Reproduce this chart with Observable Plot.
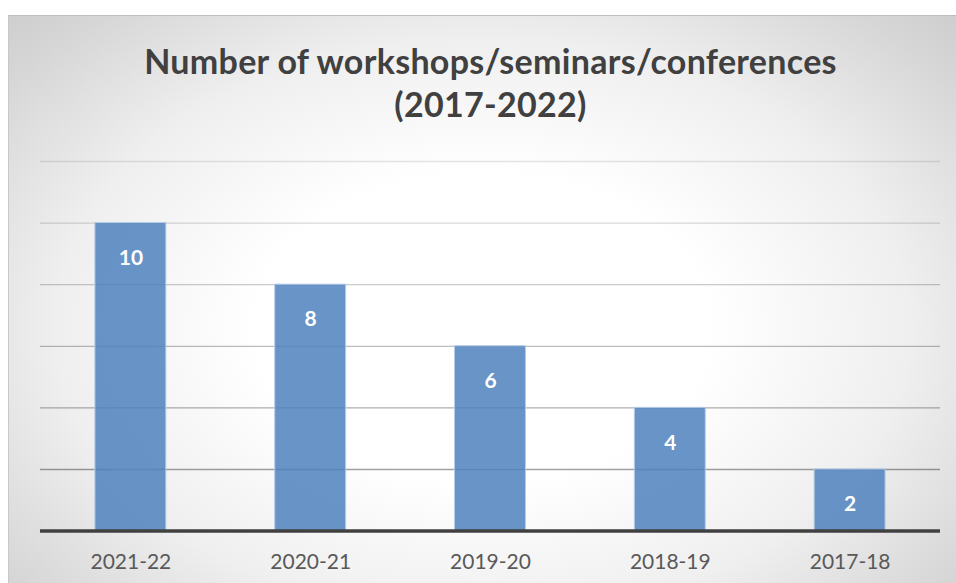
<!DOCTYPE html>
<html>
<head>
<meta charset="utf-8">
<script src="https://cdn.jsdelivr.net/npm/d3@7"></script>
<script src="https://cdn.jsdelivr.net/npm/@observablehq/plot@0.6"></script>
<style>
  html, body { margin: 0; padding: 0; background: #ffffff; }
  #chart {
    position: absolute; left: 8px; top: 15px; width: 948px; height: 568px;
    box-sizing: border-box; border-top: 1.5px solid #bdbdbd; border-left: 1px solid #c8c8c8;
    background: radial-gradient(ellipse 75% 85% at 50% 55%, #ffffff 0%, #ffffff 32%, #efefef 60%, #d6d6d6 84%, #c8c8c8 100%);
    overflow: hidden;
  }
  #title {
    height: 125px; box-sizing: border-box; padding-top: 23px; padding-left: 16px;
    font-family: Lato, "Open Sans", sans-serif; font-weight: 700; font-size: 34px;
    letter-spacing: 0.3px;
    line-height: 43px; color: #404040; text-align: center;
  }
  #plot svg { display: block; }
</style>
</head>
<body>
<div id="chart">
  <div id="title">Number of workshops/seminars/conferences<br>(2017-2022)</div>
  <div id="plot"></div>
</div>
<script>
const years = ["2021-22", "2020-21", "2019-20", "2018-19", "2017-18"];
const counts = [10, 8, 6, 4, 2];
const gridValues = [2, 4, 6, 8, 10, 12];

const data = years.map((year, i) => ({year, count: counts[i]}));

const chart = Plot.plot({
  width: 948,
  height: 443,
  marginLeft: 31,
  marginRight: 16,
  marginTop: 20,
  marginBottom: 53,
  style: {background: "transparent", fontFamily: "Lato, 'Open Sans', sans-serif"},
  x: {domain: years, paddingInner: 0.605, paddingOuter: 0.3025, label: null},
  y: {domain: [0, 12], axis: null},
  marks: [
    Plot.ruleY(gridValues, {stroke: "#000", strokeOpacity: d => 0.1 + (12 - d) * 0.027, strokeWidth: 1.3}),
    Plot.barY(data, {x: "year", y: "count", fill: "#4f81bd", fillOpacity: 0.85, stroke: "#b4cbe8", strokeWidth: 1}),
    Plot.text(data, {x: "year", y: "count", text: d => String(d.count), dy: 35, fill: "#ffffff", fontWeight: "bold", fontSize: 21}),
    Plot.ruleY([0], {stroke: "#404040", strokeWidth: 3.5}),
    Plot.axisX({tickSize: 0, tickPadding: 23, fontSize: 21, color: "#595959", label: null})
  ]
});
document.getElementById("plot").appendChild(chart);
</script>
</body>
</html>
